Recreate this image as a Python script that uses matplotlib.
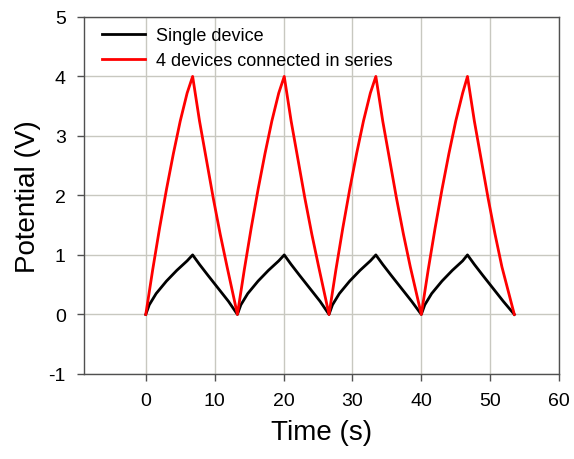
import matplotlib
matplotlib.use('Agg')
import matplotlib.pyplot as plt

plt.rcParams['font.family'] = ['Liberation Sans', 'DejaVu Sans']
plt.rcParams['axes.unicode_minus'] = False

# single device (time in s, potential in V)
t_single = [0, 0.5, 1.5, 3, 4.5, 6, 6.8, 7.8, 9, 10.5, 12, 13.3,
            13.8, 14.8, 16.3, 17.8, 19.3, 20.1, 21.1, 22.3, 23.8, 25.3, 26.6,
            27.1, 28.1, 29.6, 31.1, 32.6, 33.4, 34.4, 35.6, 37.1, 38.6, 40.0,
            40.5, 41.5, 43.0, 44.5, 46.0, 46.7, 47.7, 48.9, 50.4, 51.9, 53.5]
v_single = [0, 0.16, 0.35, 0.56, 0.74, 0.90, 1.0, 0.84, 0.66, 0.44, 0.22, 0,
            0.16, 0.35, 0.56, 0.74, 0.90, 1.0, 0.84, 0.66, 0.44, 0.22, 0,
            0.16, 0.35, 0.56, 0.74, 0.90, 1.0, 0.84, 0.66, 0.44, 0.22, 0,
            0.16, 0.35, 0.56, 0.74, 0.90, 1.0, 0.84, 0.66, 0.44, 0.22, 0]

# 4 devices in series
t_series = [0, 1, 2, 3, 4, 5, 6, 6.8, 7.8, 8.8, 9.8, 10.8, 11.8, 13.3,
            14.3, 15.3, 16.3, 17.3, 18.3, 19.3, 20.1, 21.1, 22.1, 23.1, 24.1, 25.1, 26.6,
            27.6, 28.6, 29.6, 30.6, 31.6, 32.6, 33.4, 34.4, 35.4, 36.4, 37.4, 38.4, 40.0,
            41.0, 42.0, 43.0, 44.0, 45.0, 46.0, 46.7, 47.7, 48.7, 49.7, 50.7, 51.7, 53.5]
v_series = [0, 0.75, 1.45, 2.1, 2.7, 3.25, 3.72, 4.0, 3.25, 2.6, 1.95, 1.35, 0.8, 0,
            0.75, 1.45, 2.1, 2.7, 3.25, 3.72, 4.0, 3.25, 2.6, 1.95, 1.35, 0.8, 0,
            0.75, 1.45, 2.1, 2.7, 3.25, 3.72, 4.0, 3.25, 2.6, 1.95, 1.35, 0.8, 0,
            0.75, 1.45, 2.1, 2.7, 3.25, 3.72, 4.0, 3.25, 2.6, 1.95, 1.35, 0.8, 0]

xticks = [0, 10, 20, 30, 40, 50, 60]
yticks = [-1, 0, 1, 2, 3, 4, 5]

fig = plt.figure(figsize=(5.74, 4.60), dpi=100)
ax = fig.add_axes([0.146, 0.185, 0.828, 0.776])

ax.plot(t_single, v_single, color='black', lw=2.0, label='Single device')
ax.plot(t_series, v_series, color='red', lw=2.0, label='4 devices connected in series')

ax.set_xlim(-9, 60)
ax.set_ylim(-1, 5)
ax.set_xticks(xticks)
ax.set_yticks(yticks)
ax.grid(True, color='#c8c8c0', lw=1.0)
ax.set_axisbelow(True)
for s in ax.spines.values():
    s.set_color('#505050')
    s.set_linewidth(1.0)
ax.tick_params(direction='out', length=5, width=1, color='#505050',
               labelsize=14, pad=8)

ax.set_xlabel('Time (s)', fontsize=20, labelpad=7)
ax.set_ylabel('Potential (V)', fontsize=20, labelpad=5)

ax.legend(loc='upper left', frameon=False, fontsize=13, handlelength=2.4,
          handletextpad=0.6, borderaxespad=0, borderpad=0, labelspacing=0.47,
          bbox_to_anchor=(0.038, 0.972))

fig.savefig('out.png', dpi=100)
